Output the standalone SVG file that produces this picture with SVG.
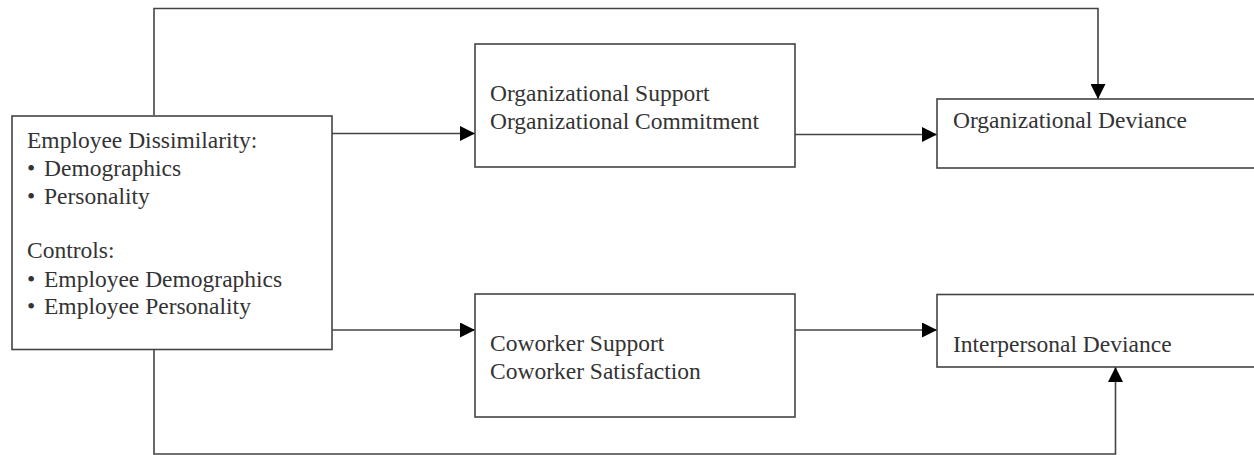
<svg xmlns="http://www.w3.org/2000/svg" width="1254" height="455" viewBox="0 0 1254 455">
<style>
.box{fill:#fff;stroke:#444;stroke-width:1.6}
.t{font-family:"Liberation Serif","Times New Roman",serif;font-size:23.5px;fill:#333}
.c{fill:none;stroke:#444;stroke-width:1.6}
</style>
<defs>
<marker id="ah" viewBox="0 0 15 15" refX="15" refY="7.5" markerWidth="15" markerHeight="15" markerUnits="userSpaceOnUse" orient="auto">
<path d="M0,0 L15,7.5 L0,15 Z" fill="#000"/>
</marker>
</defs>
<g id="connectors">
<path class="c" d="M154,115 V8.5 H1098 V99" marker-end="url(#ah)"/>
<path class="c" d="M154,349.5 V454 H1115.5 V367" marker-end="url(#ah)"/>
<path class="c" d="M332,133.5 H475" marker-end="url(#ah)"/>
<path class="c" d="M332,330 H475" marker-end="url(#ah)"/>
<path class="c" d="M795,134.5 H937" marker-end="url(#ah)"/>
<path class="c" d="M795,330 H937" marker-end="url(#ah)"/>
</g>
<g id="dissimilarity">
<rect class="box" x="12" y="116" width="320" height="233.5"/>
<text class="t" x="27" y="148">Employee Dissimilarity:</text>
<text class="t" x="27" y="176">•<tspan x="44">Demographics</tspan></text>
<text class="t" x="27" y="204">•<tspan x="44">Personality</tspan></text>
<text class="t" x="27" y="258">Controls:</text>
<text class="t" x="27" y="287">•<tspan x="44">Employee Demographics</tspan></text>
<text class="t" x="27" y="314">•<tspan x="44">Employee Personality</tspan></text>
</g>
<g id="org-support">
<rect class="box" x="475" y="44" width="320" height="123"/>
<text class="t" x="490" y="101">Organizational Support</text>
<text class="t" x="490" y="129">Organizational Commitment</text>
</g>
<g id="cow-support">
<rect class="box" x="475" y="294" width="320" height="123"/>
<text class="t" x="490" y="351">Coworker Support</text>
<text class="t" x="490" y="379">Coworker Satisfaction</text>
</g>
<g id="org-deviance">
<rect class="box" x="937" y="99" width="330" height="69"/>
<text class="t" x="953" y="128">Organizational Deviance</text>
</g>
<g id="int-deviance">
<rect class="box" x="937" y="294.5" width="330" height="72.5"/>
<text class="t" x="953" y="352">Interpersonal Deviance</text>
</g>
</svg>
